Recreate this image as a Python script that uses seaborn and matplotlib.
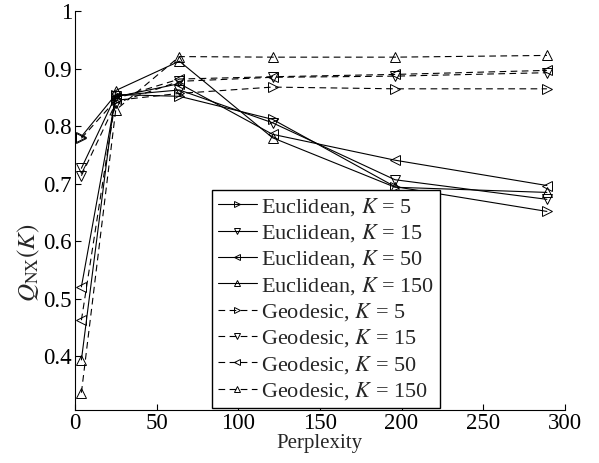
import numpy as np
import pandas as pd
import seaborn as sns
import matplotlib.pyplot as plt

# perplexity values (x axis)
perplexity = [4, 25, 64, 121, 196, 289]

# Q_NX(K) values
euc_k5 = [0.782, 0.855, 0.852, 0.812, 0.695, 0.652]
euc_k15 = [0.727, 0.853, 0.863, 0.806, 0.707, 0.673]
euc_k50 = [0.521, 0.851, 0.874, 0.786, 0.741, 0.697]
euc_k150 = [0.394, 0.862, 0.913, 0.780, 0.694, 0.685]
geo_k5 = [0.779, 0.845, 0.857, 0.868, 0.865, 0.865]
geo_k15 = [0.714, 0.840, 0.878, 0.885, 0.887, 0.893]
geo_k50 = [0.463, 0.848, 0.882, 0.886, 0.890, 0.897]
geo_k150 = [0.337, 0.828, 0.921, 0.920, 0.920, 0.923]

series_labels = ["Euclidean, $K$ = 5", "Euclidean, $K$ = 15",
                 "Euclidean, $K$ = 50", "Euclidean, $K$ = 150",
                 "Geodesic, $K$ = 5", "Geodesic, $K$ = 15",
                 "Geodesic, $K$ = 50", "Geodesic, $K$ = 150"]
series_values = [euc_k5, euc_k15, euc_k50, euc_k150,
                 geo_k5, geo_k15, geo_k50, geo_k150]
marker_list = [">", "v", "<", "^", ">", "v", "<", "^"]

sns.set_style("white")
plt.rcParams["font.family"] = ["Liberation Serif", "DejaVu Serif"]
plt.rcParams["mathtext.fontset"] = "stix"

fig = plt.figure(figsize=(5.99, 4.63), dpi=100)
ax = fig.add_axes([0.125, 0.1145, 0.818, 0.8615])

for i, (name, vals) in enumerate(zip(series_labels, series_values)):
    df = pd.DataFrame({"Perplexity": perplexity, "Q": vals})
    ls = "-" if i < 4 else (0, (6, 4))
    sns.lineplot(data=df, x="Perplexity", y="Q", ax=ax, color="black",
                 linestyle=ls, linewidth=0.8, marker=marker_list[i],
                 markersize=7, markerfacecolor="none",
                 markeredgecolor="black", markeredgewidth=0.7, label=name)

ax.set_xlim(0, 300)
ax.set_ylim(0.307, 1)
ax.set_xticks(np.arange(0, 301, 50))
ax.set_yticks([0.4, 0.5, 0.6, 0.7, 0.8, 0.9, 1.0])
ax.set_yticklabels(["0.4", "0.5", "0.6", "0.7", "0.8", "0.9", "1"])
ax.tick_params(direction="in", length=4, width=0.8, labelsize=16.5,
               colors="black", left=True, bottom=True)
ax.tick_params(axis="y", pad=2)
ax.tick_params(axis="x", pad=2)
for s in ["top", "right"]:
    ax.spines[s].set_visible(False)
for s in ["left", "bottom"]:
    ax.spines[s].set_color("black")
    ax.spines[s].set_linewidth(0.8)

ax.set_xlabel("Perplexity", fontsize=15, labelpad=0.5)
ax.set_ylabel(r"$Q_{\mathrm{NX}}(K)$", fontsize=18)
ax.yaxis.set_label_coords(-0.068, 0.37)

leg = ax.legend(loc="lower left", bbox_to_anchor=(0.28, 0.006),
                borderaxespad=0, fontsize=16, frameon=True, fancybox=False,
                edgecolor="black", framealpha=1, labelspacing=0.2,
                handlelength=1.75, handletextpad=0.2, borderpad=0.25,
                markerscale=0.65)
leg.get_frame().set_linewidth(1.0)

fig.savefig("out.png", dpi=100)
